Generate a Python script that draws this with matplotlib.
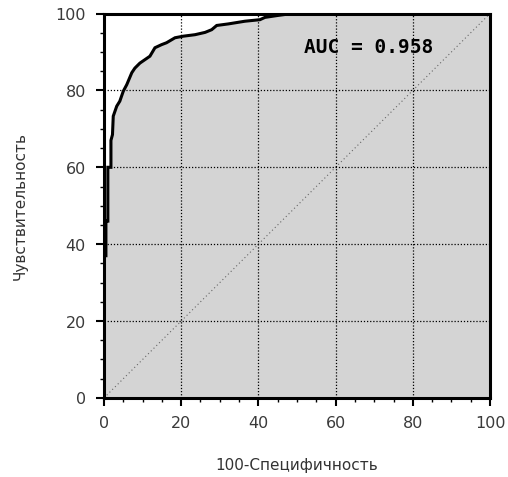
import matplotlib
matplotlib.use("Agg")
import matplotlib.pyplot as plt
import numpy as np

# ROC curve points (100-Specificity, Sensitivity)
fpr = [0, 0, 0.5, 0.5, 1.0, 1.0, 1.8, 1.8, 2.2, 2.4, 3.3, 4.1, 5.0, 5.9, 7.2, 8.0, 9.3,
       10.6, 11.9, 13.2, 14.9, 16.2, 18.4, 20.5, 23.6, 26.2, 27.9, 29.2, 32.2, 36.5,
       40.4, 41.7, 45.0, 48.7, 60.0, 100]
tpr = [0, 37, 37, 46, 46, 60, 60, 67, 68.5, 73.3, 75.9, 77.2, 79.8, 81.5, 84.6, 85.8, 87.1,
       88.0, 88.9, 91.1, 91.9, 92.4, 93.7, 94.1, 94.5, 95.1, 95.8, 96.9, 97.3, 98.0,
       98.4, 99.0, 99.5, 100, 100, 100]
auc_text = "AUC = 0.958"
ticks = [0, 20, 40, 60, 80, 100]
xlabel = "100-Специфичность"
ylabel = "Чувствительность"

fig = plt.figure(figsize=(5.08, 4.775), dpi=100)
ax = fig.add_axes([0.2047, 0.1656, 0.7599, 0.805])
ax.set_facecolor("white")
ax.fill(list(fpr) + [100, 0], list(tpr) + [0, 0], facecolor="#d4d4d4",
        edgecolor="none", zorder=1)
ax.plot(fpr, tpr, color="black", linewidth=2.2, zorder=4, solid_joinstyle="miter")
ax.plot([0, 100], [0, 100], color="#666666", linestyle=(0, (1, 2.5)), linewidth=0.8, zorder=2)
for t in ticks[1:-1]:
    ax.axvline(t, color="black", linestyle=(0, (1, 1.5)), linewidth=0.9, zorder=2)
    ax.axhline(t, color="black", linestyle=(0, (1, 1.5)), linewidth=0.9, zorder=2)

ax.set_xlim(0, 100)
ax.set_ylim(0, 100)
ax.set_xticks(ticks)
ax.set_yticks(ticks)
ax.set_xticks(np.arange(0, 101, 5), minor=True)
ax.set_yticks(np.arange(0, 101, 5), minor=True)
ax.tick_params(which="major", direction="out", length=6, width=1.5, labelsize=11.5,
               labelcolor="#3a3a3a", pad=7)
ax.tick_params(which="minor", direction="out", length=3, width=1)
for s in ax.spines.values():
    s.set_linewidth(2.2)
    s.set_zorder(5)

ax.set_xlabel(xlabel, fontsize=11, color="#333333", labelpad=19)
ax.set_ylabel(ylabel, fontsize=11, color="#333333", labelpad=20)
ax.text(68.5, 91.4, auc_text, fontsize=14, fontweight="bold", ha="center", va="center",
        zorder=6, family="DejaVu Sans Mono")

fig.savefig("out.png", dpi=100)
